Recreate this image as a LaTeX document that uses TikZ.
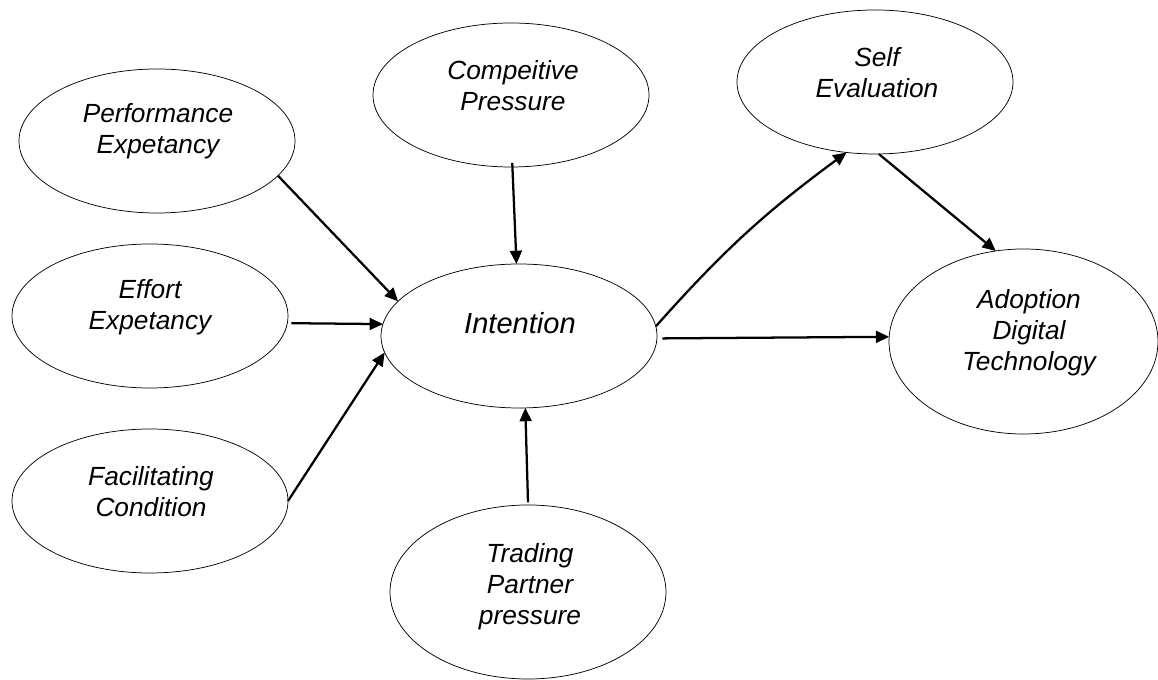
\documentclass[tikz,border=0pt]{standalone}
\usepackage{fontspec}
\setmainfont{Liberation Sans}
\usetikzlibrary{arrows.meta,shapes.geometric}
\begin{document}
\begin{tikzpicture}[x=0.75pt,y=-0.75pt,
  ell/.style={draw=black,line width=0.55pt,ellipse,inner sep=0pt,outer sep=0pt,
    minimum width=207pt,minimum height=108pt},
  lbl/.style={align=center,inner sep=0pt,font=\itshape\fontsize{19.7}{23.3}\selectfont},
  big/.style={align=center,inner sep=0pt,font=\itshape\fontsize{21.8}{25}\selectfont},
  arr/.style={line width=1.7pt,-{Triangle[length=10pt,width=9pt]}},
  every node/.style={text=black}]
\useasboundingbox (0,0) rectangle (1158,680);
% ellipses
\node[ell] (pe) at (157,141) {};
\node[ell] (ee) at (150,316) {};
\node[ell] (fc) at (150,501) {};
\node[ell] (cp) at (511,95) {};
\node[ell] (in) at (519,336) {};
\node[ell,minimum height=130.5pt] (tp) at (528,592) {};
\node[ell] (se) at (875,82) {};
\node[ell,minimum width=201.75pt,minimum height=138.75pt] (ad) at (1023.5,341.5) {};
% texts
\node[lbl] (tpe) at (158,131) {Performance\\Expetancy};
\node[lbl] (tee) at (150,307.5) {Effort\\Expetancy};
\node[lbl] (tfc) at (151,492) {Facilitating\\Condition};
\node[lbl] (tcp) at (513,86) {Compeitive\\Pressure};
\node[big] (tin) at (520,323) {Intention};
\node[lbl] (ttp) at (530,587) {Trading\\Partner\\pressure};
\node[lbl] (tse) at (877,72.5) {Self\\Evaluation};
\node[lbl] (tad) at (1029,333) {Adoption\\Digital\\Technology};
% connectors
\draw[arr] (pe.-16.7) -- (in.164.7);
\draw[arr] ([xshift=3]ee.-3) -- (in.175.4);
\draw[arr] (fc.-0.8) -- (in.-173.3);
\draw[arr] ([yshift=3]cp.-89) -- (in.92.5);
\draw[arr] ([yshift=2]tp.90.7) -- (in.-85);
\draw[arr] (in.4.2) to[bend left=6] (se.-112.5);
\draw[arr] ([xshift=4]in.-1) -- (ad.178.5);
\draw[arr] (se.-87.6) -- (ad.107.3);
\end{tikzpicture}
\end{document}
